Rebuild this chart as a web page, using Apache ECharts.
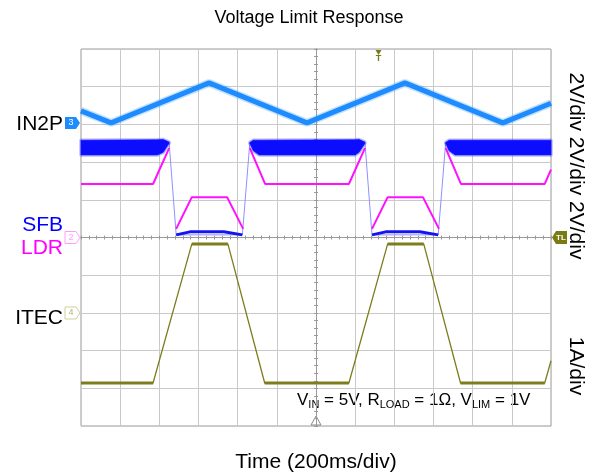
<!DOCTYPE html>
<html>
<head>
<meta charset="utf-8">
<script src="https://cdn.jsdelivr.net/npm/echarts@6/dist/echarts.min.js"></script>
<style>html,body{margin:0;padding:0;background:#fff}#c{width:600px;height:474px}</style>
</head>
<body>
<div id="c"></div>
<script>
// Time in ms (200 ms/div, 12 div), vertical position in screen divisions (0..10)
const in2p = [[0,8.36],[154,8.04],[654,9.1],[1154,8.04],[1654,9.1],[2154,8.04],[2400,8.56]];
const itec = [[0,1.14],[368,1.14],[566,4.83],[750,4.83],[938,1.14],[1368,1.14],[1566,4.83],[1750,4.83],[1938,1.14],[2368,1.14],[2400,1.73]];
const itecFlat = [[0,1.14],[368,1.14],[400,'-'],[566,4.83],[750,4.83],[800,'-'],[938,1.14],[1368,1.14],[1400,'-'],[1566,4.83],[1750,4.83],[1800,'-'],[1938,1.14],[2368,1.14]];
const ldr = [[0,6.42],[368,6.42],[450,7.37],[468,'-'],[486,5.23],[566,6.07],[746,6.07],[828,5.23],[845,'-'],[862,7.37],[940,6.42],[1368,6.42],[1450,7.37],[1468,'-'],[1486,5.23],[1566,6.07],[1746,6.07],[1828,5.23],[1845,'-'],[1862,7.37],[1940,6.42],[2368,6.42],[2400,6.8]];
const sfbThin = [[0,7.4],[450,7.51],[486,5.07],[824,5.07],[862,7.51],[1450,7.51],[1486,5.07],[1824,5.07],[1862,7.51],[2400,7.4]];
const sfbLow = [[486,5.07],[556,5.15],[730,5.15],[824,5.07],[1100,'-'],[1486,5.07],[1556,5.15],[1730,5.15],[1824,5.07]];
// SFB switching band: three segments, each with times, lower and upper edges
const sfbBandT  = [[0,390,420,450],[862,880,910,1400,1420,1450],[1862,1880,1910,2400]];
const sfbBandLo = [[7.19,7.19,7.26,7.5],[7.5,7.3,7.19,7.19,7.26,7.5],[7.5,7.3,7.19,7.19]];
const sfbBandHi = [[7.58,7.59,7.6,7.53],[7.52,7.58,7.58,7.59,7.6,7.53],[7.52,7.58,7.58,7.58]];

const FONT = 'Liberation Sans, Arial, sans-serif';
const G = {left:81, top:49, width:470, height:377};
const chart = echarts.init(document.getElementById('c'), null, {renderer:'canvas'});

function tickAxisX(gi, inside){
  return {type:'value', gridIndex:gi, min:-1200, max:1200, interval:40,
    axisLine:{show:true, onZero:true, lineStyle:{color:'#9a9a9a', width:1}},
    axisTick:{show:true, inside:inside, length:2, lineStyle:{color:'#9a9a9a'}},
    axisLabel:{show:false}, splitLine:{show:false}};
}
function tickAxisY(gi, inside){
  return {type:'value', gridIndex:gi, min:-5, max:5, interval:0.2,
    axisLine:{show:true, onZero:true, lineStyle:{color:'#9a9a9a', width:1}},
    axisTick:{show:true, inside:inside, length:2, lineStyle:{color:'#9a9a9a'}},
    axisLabel:{show:false}, splitLine:{show:false}};
}

function renderBand(params, api){
  const i = params.dataIndex;
  const ts = sfbBandT[i], lo = sfbBandLo[i], hi = sfbBandHi[i];
  const pts = [];
  for (let k=0;k<ts.length;k++) pts.push(api.coord([ts[k], hi[k]]));
  for (let k=ts.length-1;k>=0;k--) pts.push(api.coord([ts[k], lo[k]]));
  return {type:'group', children:[
    {type:'polygon', shape:{points:pts},
      style:{fill:'rgba(60,60,255,0.35)', stroke:'rgba(60,60,255,0.35)', lineWidth:3.5, lineJoin:'round'}},
    {type:'polygon', shape:{points:pts},
      style:{fill:'#0c0cff', stroke:'rgba(20,20,255,0.7)', lineWidth:1, lineJoin:'round'}}
  ]};
}

const option = {
  animation:false,
  backgroundColor:'#fff',
  grid:[
    Object.assign({show:true, borderColor:'#9a9a9a', borderWidth:1, backgroundColor:'transparent'}, G),
    Object.assign({}, G),
    Object.assign({}, G)
  ],
  xAxis:[
    {type:'value', gridIndex:0, min:0, max:2400, interval:200,
     axisLine:{show:false}, axisTick:{show:false}, axisLabel:{show:false},
     splitLine:{show:true, lineStyle:{color:'#c9c9c9', width:1}}},
    tickAxisX(1,false), tickAxisX(2,true)
  ],
  yAxis:[
    {type:'value', gridIndex:0, min:0, max:10, interval:1,
     axisLine:{show:false}, axisTick:{show:false}, axisLabel:{show:false},
     splitLine:{show:true, lineStyle:{color:'#c9c9c9', width:1}}},
    tickAxisY(1,false), tickAxisY(2,true)
  ],
  series:[
    {name:'IN2P halo', type:'line', data:in2p, showSymbol:false, symbol:'none',
     lineStyle:{color:'rgba(60,160,255,0.3)', width:8}, z:2},
    {name:'IN2P', type:'line', data:in2p, showSymbol:false, symbol:'none',
     lineStyle:{color:'#1e8cff', width:5}, z:3},
    {name:'SFB thin', type:'line', data:sfbThin, showSymbol:false, symbol:'none',
     lineStyle:{color:'#9090ff', width:1}, z:2},
    {name:'LDR', type:'line', data:ldr, showSymbol:false, symbol:'none', connectNulls:false,
     lineStyle:{color:'#ff10ff', width:2}, z:3},
    {name:'SFB band', type:'custom', renderItem:renderBand,
     data:sfbBandT.map((ts,i)=>[ts[0], sfbBandLo[i][0]]), z:4},
    {name:'SFB low', type:'line', data:sfbLow, showSymbol:false, symbol:'none', connectNulls:false,
     lineStyle:{color:'#1414f0', width:3}, z:4},
    {name:'ITEC', type:'line', data:itec, showSymbol:false, symbol:'none',
     lineStyle:{color:'#7d7d1e', width:1.3}, z:3},
    {name:'ITEC flat', type:'line', data:itecFlat, showSymbol:false, symbol:'none', connectNulls:false,
     lineStyle:{color:'#7d7d1e', width:3}, z:3}
  ],
  graphic:[
    {type:'text', x:309, y:18, style:{text:'Voltage Limit Response', font:'18px '+FONT, fill:'#000', textAlign:'center', textVerticalAlign:'middle'}},
    {type:'text', x:316, y:462, style:{text:'Time (200ms/div)', font:'21px '+FONT, fill:'#000', textAlign:'center', textVerticalAlign:'middle'}},
    {type:'text', x:63, y:124, style:{text:'IN2P', font:'21px '+FONT, fill:'#000', textAlign:'right', textVerticalAlign:'middle'}},
    {type:'text', x:63, y:225, style:{text:'SFB', font:'21px '+FONT, fill:'#0000ff', textAlign:'right', textVerticalAlign:'middle'}},
    {type:'text', x:63, y:248, style:{text:'LDR', font:'21px '+FONT, fill:'#ff00ff', textAlign:'right', textVerticalAlign:'middle'}},
    {type:'text', x:63, y:318, style:{text:'ITEC', font:'21px '+FONT, fill:'#000', textAlign:'right', textVerticalAlign:'middle'}},
    {type:'text', x:576, y:166, rotation:-Math.PI/2, style:{text:'2V/div 2V/div 2V/div', font:'21px '+FONT, fill:'#000', textAlign:'center', textVerticalAlign:'middle'}},
    {type:'text', x:576, y:366, rotation:-Math.PI/2, style:{text:'1A/div', font:'21px '+FONT, fill:'#000', textAlign:'center', textVerticalAlign:'middle'}},
    // channel tags
    {type:'polygon', shape:{points:[[65,117],[76,117],[80,123],[76,129],[65,129]]}, style:{fill:'#1e8cff'}},
    {type:'text', x:71, y:123, style:{text:'3', font:'9px '+FONT, fill:'#fff', textAlign:'center', textVerticalAlign:'middle'}},
    {type:'polygon', shape:{points:[[65,231.5],[76,231.5],[80,237.5],[76,243.5],[65,243.5]]}, style:{fill:'#fff', stroke:'#ff9cff', lineWidth:1}},
    {type:'text', x:71, y:237.5, style:{text:'2', font:'9px '+FONT, fill:'#ff9cff', textAlign:'center', textVerticalAlign:'middle'}},
    {type:'polygon', shape:{points:[[65,307],[76,307],[80,313],[76,319],[65,319]]}, style:{fill:'#fff', stroke:'#cfcf9a', lineWidth:1}},
    {type:'text', x:71, y:313, style:{text:'4', font:'9px '+FONT, fill:'#b5b570', textAlign:'center', textVerticalAlign:'middle'}},
    {type:'polygon', shape:{points:[[552,237.5],[556,231],[567,231],[567,244],[556,244]]}, style:{fill:'#7a7a12'}},
    {type:'text', x:561, y:237.5, style:{text:'TL', font:'bold 8px '+FONT, fill:'#fff', textAlign:'center', textVerticalAlign:'middle'}},
    // trigger markers
    {type:'polygon', shape:{points:[[375.5,50],[381.5,50],[378.5,55]]}, style:{fill:'#7a7a12'}},
    {type:'text', x:378.5, y:59, style:{text:'T', font:'bold 9px '+FONT, fill:'#7a7a12', textAlign:'center', textVerticalAlign:'middle'}},
    {type:'polygon', shape:{points:[[316,416],[321,425],[311,425]]}, style:{fill:'#fff', stroke:'#8a8a8a', lineWidth:1}},
    // annotation
    {type:'text', x:297, y:400, style:{
      text:'V{s|IN} = 5V, R{s|LOAD} = 1Ω, V{s|LIM} = 1V',
      font:'17px '+FONT, fill:'#000', textVerticalAlign:'middle',
      rich:{s:{font:'11px '+FONT, fill:'#000', padding:[9,0,0,0]}}
    }}
  ]
};
chart.setOption(option);
</script>
</body>
</html>
